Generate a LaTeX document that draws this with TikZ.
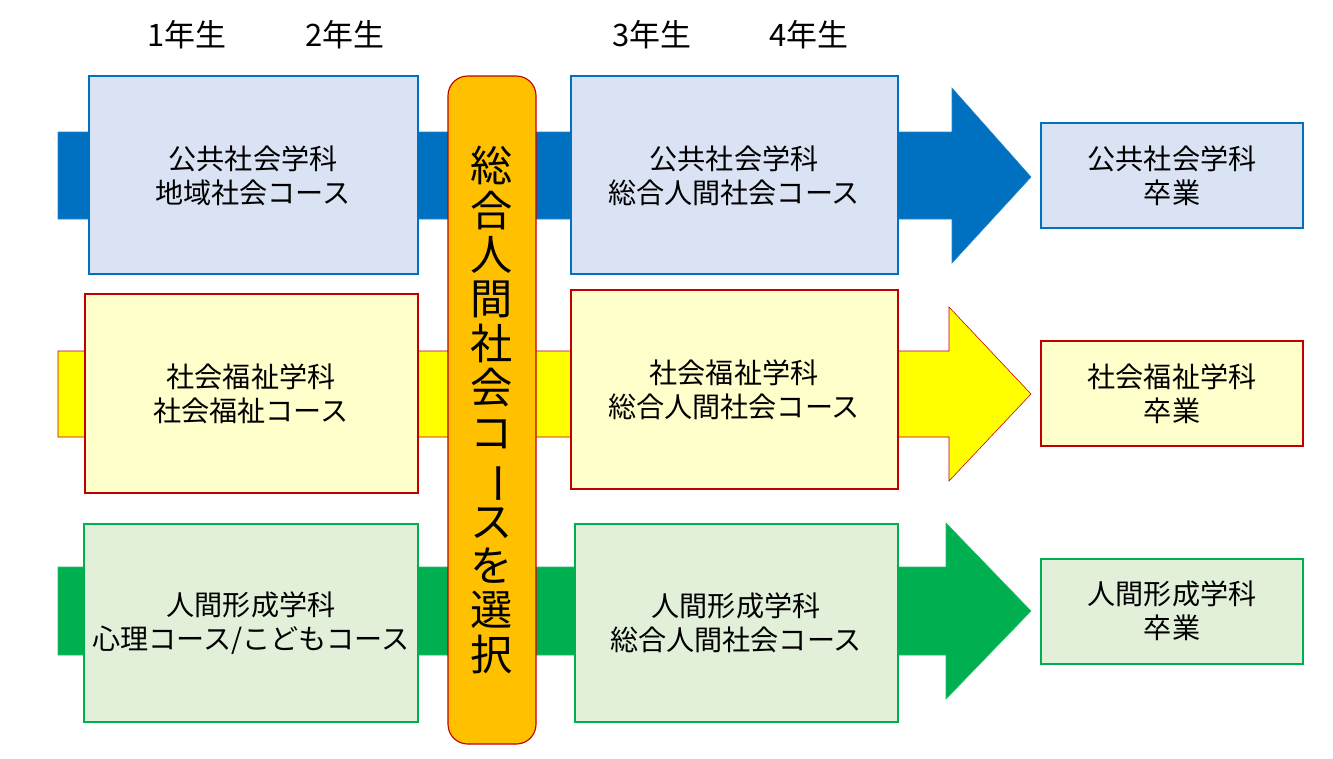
\documentclass[tikz,border=0pt]{standalone}
\usepackage{fontspec}
\usepackage{graphicx}
\setmainfont{Noto Sans CJK JP}
\definecolor{pubBlue}{HTML}{0070C0}
\definecolor{pubPale}{HTML}{DAE3F3}
\definecolor{welYellow}{HTML}{FFFF00}
\definecolor{welPale}{HTML}{FFFFCC}
\definecolor{welRed}{HTML}{C00000}
\definecolor{humGreen}{HTML}{00B050}
\definecolor{humPale}{HTML}{E2F0D9}
\definecolor{selOrange}{HTML}{FFC000}
\tikzset{
  coursetext/.style={font=\fontsize{20}{24}\selectfont, align=center},
  yeartext/.style={font=\fontsize{22}{26}\selectfont},
  coursebox/.style={line width=0.8pt}
}
\begin{document}
\begin{tikzpicture}[x=0.025cm, y=-0.025cm]
        \useasboundingbox (0,0) rectangle (1333,758);
        % year labels
        \node[yeartext] (y1) at (187,35) {1年生};
        \node[yeartext] (y2) at (345,35) {2年生};
        \node[yeartext] (y3) at (652,35) {3年生};
        \node[yeartext] (y4) at (809,35) {4年生};
        % arrows
        \filldraw[fill=pubBlue, draw=pubBlue!85!white, line width=0.4pt] (58,132) -- (952,132) -- (952,88) -- (1031,177) -- (952,263) -- (952,219) -- (58,219) -- cycle;
        \filldraw[fill=welYellow, draw=welRed, line width=0.4pt] (58,351) -- (949,351) -- (949,307) -- (1031,394) -- (949,481) -- (949,437) -- (58,437) -- cycle;
        \filldraw[fill=humGreen, draw=humGreen!85!white, line width=0.4pt] (58,567) -- (946,567) -- (946,523) -- (1031,611) -- (946,699) -- (946,655) -- (58,655) -- cycle;
        % public society
        \filldraw[coursebox, fill=pubPale, draw=pubBlue] (89,76) rectangle (418,274);
        \filldraw[coursebox, fill=pubPale, draw=pubBlue] (571,76) rectangle (898,274);
        \filldraw[coursebox, fill=pubPale, draw=pubBlue] (1041,123) rectangle (1303,228);
        \node[coursetext] (pub1) at (253,176) {公共社会学科\\地域社会コース};
        \node[coursetext] (pub3) at (734,176) {公共社会学科\\総合人間社会コース};
        \node[coursetext] (pubG) at (1172,176) {公共社会学科\\卒業};
        % social welfare
        \filldraw[coursebox, fill=welPale, draw=welRed] (85,294) rectangle (418,493);
        \filldraw[coursebox, fill=welPale, draw=welRed] (571,290) rectangle (898,489);
        \filldraw[coursebox, fill=welPale, draw=welRed] (1041,341) rectangle (1303,446);
        \node[coursetext] (wel1) at (251,394) {社会福祉学科\\社会福祉コース};
        \node[coursetext] (wel3) at (734,390) {社会福祉学科\\総合人間社会コース};
        \node[coursetext] (welG) at (1172,394) {社会福祉学科\\卒業};
        % human development
        \filldraw[coursebox, fill=humPale, draw=humGreen] (84,524) rectangle (418,722);
        \filldraw[coursebox, fill=humPale, draw=humGreen] (575,524) rectangle (898,722);
        \filldraw[coursebox, fill=humPale, draw=humGreen] (1041,559) rectangle (1303,664);
        \node[coursetext] (hum1) at (251,623) {人間形成学科\\心理コース/こどもコース};
        \node[coursetext] (hum3) at (736,623) {人間形成学科\\総合人間社会コース};
        \node[coursetext] (humG) at (1172,611) {人間形成学科\\卒業};
        % selection bar
        \filldraw[fill=selOrange, draw=welRed, line width=0.8pt, rounded corners=14pt] (448,76) rectangle (536,744);
        \node[font=\fontsize{30}{31.6}\selectfont, align=center] (sel) at (492,410)
          {総\\合\\人\\間\\社\\会\\コ\\\rotatebox[origin=c]{-90}{ー}\\ス\\を\\選\\択};
\end{tikzpicture}
\end{document}
